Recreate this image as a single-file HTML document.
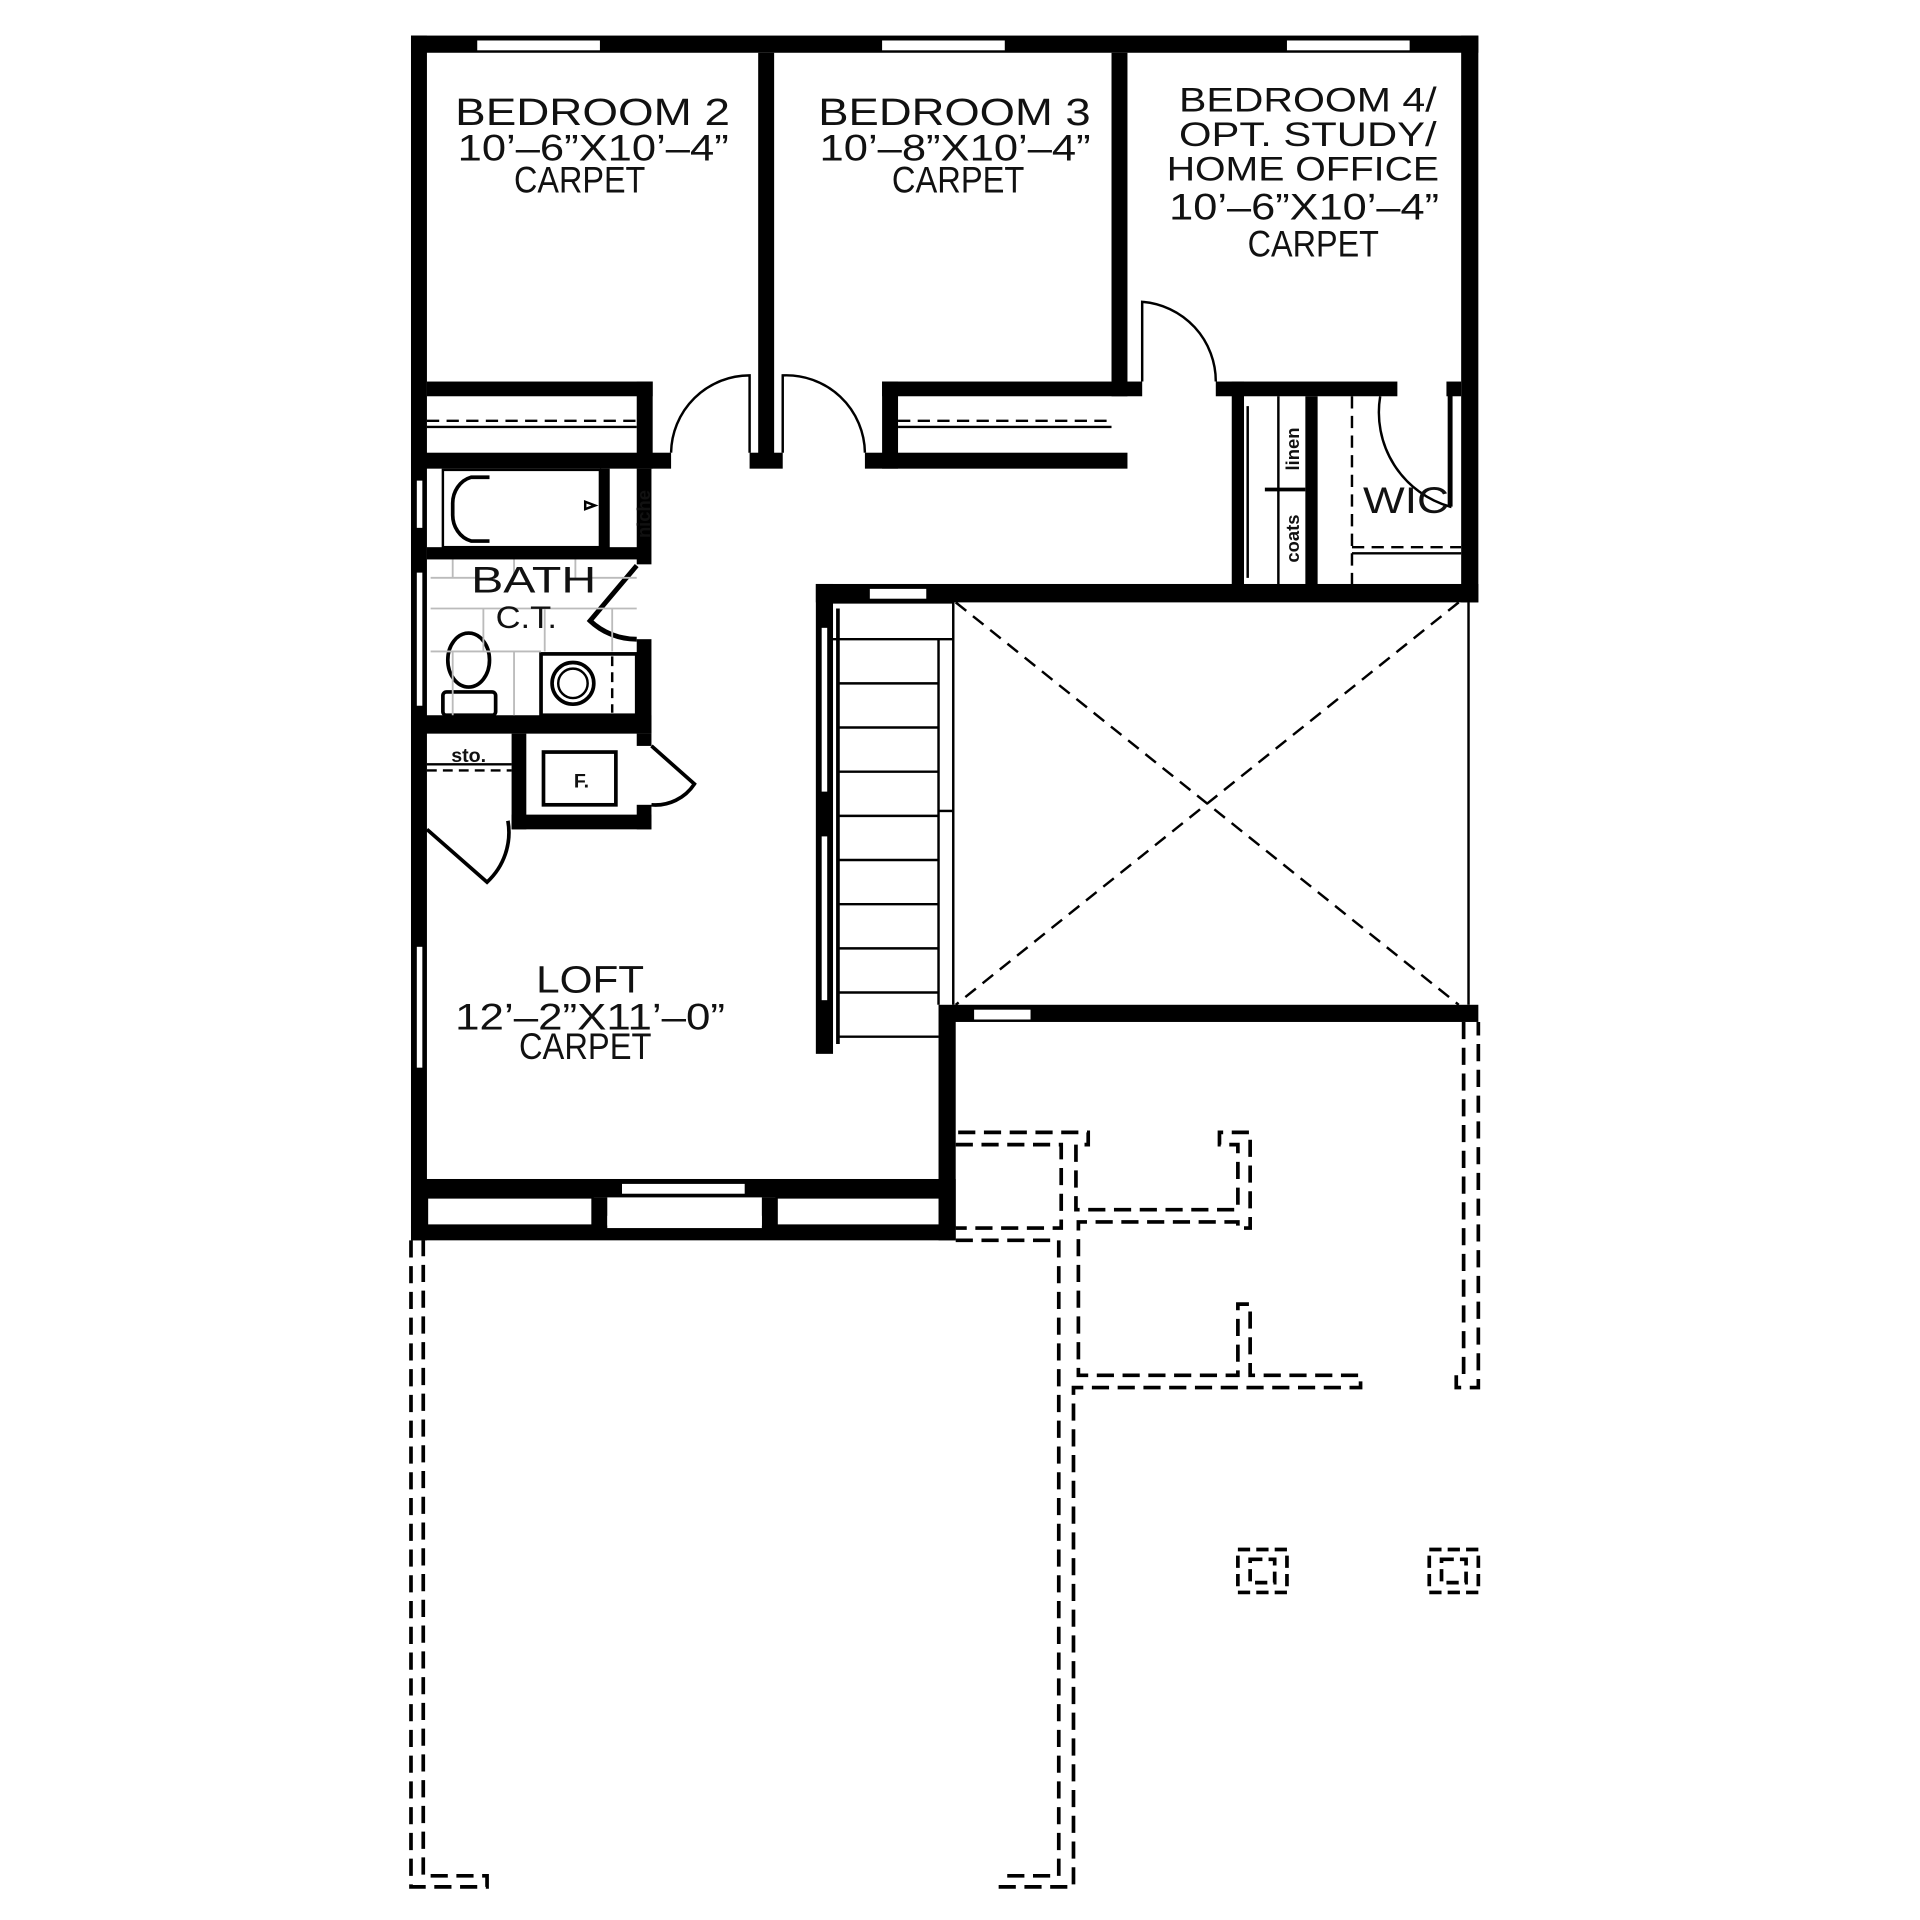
<!DOCTYPE html>
<html><head><meta charset="utf-8"><style>
html,body{margin:0;padding:0;background:#fff}
svg{display:block}
text{font-family:"Liberation Sans",sans-serif;fill:#111}
.t{font-size:31px}
.d{font-size:30px}
</style></head><body>
<svg width="1920" height="1920" viewBox="1 -1 1565 1565" xmlns="http://www.w3.org/2000/svg">
<g fill="#000">
<rect x="336" y="28" width="870" height="14"/>
<rect x="336" y="28" width="13" height="982"/>
<rect x="1192" y="28" width="14" height="462"/>
<rect x="390" y="32" width="100" height="8" fill="#fff"/>
<rect x="720" y="32" width="100" height="8" fill="#fff"/>
<rect x="1050" y="32" width="100" height="8" fill="#fff"/>
<rect x="619" y="42" width="13" height="338"/>
<rect x="907" y="42" width="13" height="280"/>
<rect x="349" y="310" width="184" height="12"/>
<rect x="520" y="310" width="13" height="71"/>
<rect x="336" y="368" width="212" height="13"/>
<rect x="612" y="368" width="27" height="13"/>
<rect x="720" y="310" width="200" height="12"/>
<rect x="720" y="310" width="13" height="71"/>
<rect x="706" y="368" width="214" height="13"/>
<rect x="920" y="310" width="12" height="12"/>
<rect x="992" y="310" width="148" height="12"/>
<rect x="1005" y="310" width="10" height="170"/>
<rect x="1065" y="322" width="10" height="158"/>
<rect x="1180" y="310" width="12" height="12"/>
<rect x="666" y="475" width="540" height="15"/>
<rect x="666" y="475" width="14" height="383"/>
<rect x="778" y="818" width="428" height="14"/>
<rect x="766" y="818" width="14" height="192"/>
<rect x="336" y="960" width="444" height="15"/>
<rect x="336" y="998" width="444" height="12"/>
<rect x="484" y="975" width="12" height="25"/>
<rect x="622" y="975" width="12" height="25"/>
<rect x="336" y="975" width="13" height="25"/>
<rect x="768" y="975" width="12" height="25"/>
<rect x="496" y="990" width="126" height="10" fill="#fff"/>
<rect x="508" y="964" width="100" height="8" fill="#fff"/>
<rect x="710" y="479" width="46" height="8" fill="#fff"/>
<rect x="795" y="822" width="46" height="8" fill="#fff"/>
<rect x="490" y="381" width="8" height="65"/>
<rect x="520" y="381" width="12" height="78"/>
<rect x="520" y="520" width="12" height="77"/>
<rect x="336" y="582" width="196" height="15"/>
<rect x="418" y="597" width="12" height="78"/>
<rect x="418" y="663" width="114" height="12"/>
<rect x="520" y="597" width="12" height="10"/>
<rect x="520" y="655" width="12" height="20"/>
<rect x="349" y="445" width="180" height="10"/>
</g>
<rect x="340" y="390" width="6" height="40" fill="#fff" stroke="#000" stroke-width="1.5"/>
<rect x="340" y="465" width="6" height="110" fill="#fff" stroke="#000" stroke-width="1.5"/>
<rect x="340" y="770" width="6" height="100" fill="#fff" stroke="#000" stroke-width="1.5"/>
<rect x="670" y="510" width="6" height="135" fill="#fff" stroke="#000" stroke-width="1.5"/>
<rect x="670" y="680" width="6" height="135" fill="#fff" stroke="#000" stroke-width="1.5"/>
<g fill="none" stroke="#000" stroke-width="2">
<line x1="349" y1="342" x2="520" y2="342" stroke-dasharray="10,6"/>
<line x1="349" y1="347" x2="520" y2="347"/>
<line x1="733" y1="342" x2="907" y2="342" stroke-dasharray="10,6"/>
<line x1="733" y1="347" x2="907" y2="347"/>
<path d="M612 368 V305 A64 64 0 0 0 548 368"/>
<path d="M639 368 V305 A64 64 0 0 1 706 368"/>
<path d="M932 310 V245 A65 65 0 0 1 992 310"/>
<path d="M1183 320 V412 A80 80 0 0 1 1126 322"/>
<line x1="1183" y1="318" x2="1183" y2="412" stroke-width="4"/>
<line x1="1043" y1="322" x2="1043" y2="478"/>
<line x1="1032" y1="398" x2="1065" y2="398" stroke-width="3"/>
<line x1="1103" y1="322" x2="1103" y2="478" stroke-dasharray="10,6"/>
<line x1="1103" y1="445" x2="1192" y2="445" stroke-dasharray="10,6"/>
<line x1="1103" y1="450" x2="1192" y2="450"/>
<line x1="1018" y1="330" x2="1018" y2="470"/>
<line x1="1198" y1="490" x2="1198" y2="818"/>
<path d="M780 490 L1190 818 M1190 490 L780 818" stroke-dasharray="11,7"/>
<line x1="684" y1="495" x2="684" y2="850" stroke-width="3"/>
<polyline points="680,490 778,490 778,818"/>
<line x1="766" y1="520" x2="766" y2="818"/>
<line x1="680" y1="520" x2="778" y2="520"/>
<line x1="766" y1="660" x2="778" y2="660"/>
<path d="M684 556H766M684 592H766M684 628H766M684 664H766M684 700H766M684 736H766M684 772H766M684 808H766M684 844H766"/>
<rect x="349" y="975" width="135" height="23"/>
<rect x="634" y="975" width="134" height="23"/>
<rect x="362" y="382" width="128" height="63" stroke-width="2"/>
<path d="M400 388 H385 A20 22 0 0 0 370 410 V418 A20 22 0 0 0 385 440 H400" stroke-width="3"/>
<path d="M478 408 l8 3 l-8 3z"/>
<rect x="442" y="532" width="78" height="50" stroke-width="3"/>
<circle cx="468" cy="556" r="17" stroke-width="3"/>
<circle cx="468" cy="556" r="12"/>
<line x1="500" y1="534" x2="500" y2="580" stroke-dasharray="8,5"/>
<ellipse cx="383" cy="537" rx="17" ry="22" stroke-width="3"/>
<rect x="362" y="563" width="43" height="19" rx="3" stroke-width="3"/>
<path d="M520 460 L482 505 A55 55 0 0 0 520 520" stroke-width="4"/>
<g stroke="#bbb" stroke-width="1.5">
<path d="M352 495H520M352 530H442M352 470H390M480 470H520"/>
<path d="M370 455V470M420 455V470M470 455V470M395 495V530M445 495V530M500 495V530M370 530V582M420 530V582"/>
</g>
<line x1="349" y1="622" x2="418" y2="622"/>
<line x1="349" y1="627" x2="418" y2="627" stroke-dasharray="8,5"/>
<rect x="444" y="612" width="59" height="43" stroke-width="3"/>
<path d="M532 607 L567 638 A38 38 0 0 1 532 655" stroke-width="3"/>
<path d="M349 675 L398 718 A55 55 0 0 0 415 668" stroke-width="3"/>
</g>
<g fill="none" stroke="#000" stroke-width="3" stroke-dasharray="14,7">
<polyline points="336,1010 336,1537 398,1537 398,1528 346,1528 346,1010"/>
<polyline points="815,1537 876,1537 876,1130 1110,1130 1110,1120 1020,1120 1020,1062 1010,1062 1010,1120 880,1120 880,995 1010,995 1010,1000 1020,1000 1020,922 995,922 995,932 1010,932 1010,985 878,985 878,932 888,932 888,922 780,922"/>
<polyline points="780,932 866,932 866,1000 780,1000"/>
<polyline points="780,1010 864,1010 864,1528 815,1528"/>
<polyline points="1194,832 1194,1120 1188,1120 1188,1130 1206,1130 1206,832"/>
</g>
<g fill="none" stroke="#000" stroke-width="3" stroke-dasharray="10,5">
<rect x="1010" y="1262" width="40" height="35"/>
<rect x="1020" y="1270" width="20" height="19"/>
<rect x="1166" y="1262" width="40" height="35"/>
<rect x="1176" y="1270" width="20" height="19"/>
</g>
<text class="t" x="372" y="101" textLength="224" lengthAdjust="spacingAndGlyphs">BEDROOM 2</text>
<text class="d" x="374" y="130" textLength="221" lengthAdjust="spacingAndGlyphs">10’–6”X10’–4”</text>
<text class="d" x="420" y="156" textLength="107" lengthAdjust="spacingAndGlyphs">CARPET</text>
<text class="t" x="668" y="101" textLength="222" lengthAdjust="spacingAndGlyphs">BEDROOM 3</text>
<text class="d" x="669" y="130" textLength="221" lengthAdjust="spacingAndGlyphs">10’–8”X10’–4”</text>
<text class="d" x="728" y="156" textLength="108" lengthAdjust="spacingAndGlyphs">CARPET</text>
<text class="t" x="962" y="90" textLength="210" lengthAdjust="spacingAndGlyphs" style="font-size:28px">BEDROOM 4/</text>
<text class="t" x="962" y="118" textLength="210" lengthAdjust="spacingAndGlyphs" style="font-size:28px">OPT. STUDY/</text>
<text class="t" x="952" y="146" textLength="222" lengthAdjust="spacingAndGlyphs" style="font-size:28px">HOME OFFICE</text>
<text class="d" x="954" y="178" textLength="220" lengthAdjust="spacingAndGlyphs">10’–6”X10’–4”</text>
<text class="d" x="1018" y="208" textLength="107" lengthAdjust="spacingAndGlyphs">CARPET</text>
<text class="t" x="385" y="482" textLength="102" lengthAdjust="spacingAndGlyphs" style="font-size:30px">BATH</text>
<text class="d" x="405" y="511" textLength="50" lengthAdjust="spacingAndGlyphs" style="font-size:26px">C.T.</text>
<text class="t" x="1112" y="417" textLength="70" lengthAdjust="spacingAndGlyphs" style="font-size:30px">WIC</text>
<text x="383" y="620" text-anchor="middle" style="font-size:16px;font-weight:bold">sto.</text>
<text x="475" y="641" text-anchor="middle" style="font-size:16px;font-weight:bold">F.</text>
<text x="0" y="0" transform="translate(531,418) rotate(-90)" text-anchor="middle" style="font-size:15px;font-weight:bold">niche</text>
<text x="0" y="0" transform="translate(1060,365) rotate(-90)" text-anchor="middle" style="font-size:15px;font-weight:bold">linen</text>
<text x="0" y="0" transform="translate(1060,438) rotate(-90)" text-anchor="middle" style="font-size:15px;font-weight:bold">coats</text>
<text class="t" x="438" y="808" textLength="88" lengthAdjust="spacingAndGlyphs">LOFT</text>
<text class="d" x="372" y="838" textLength="220" lengthAdjust="spacingAndGlyphs">12’–2”X11’–0”</text>
<text class="d" x="424" y="862" textLength="108" lengthAdjust="spacingAndGlyphs">CARPET</text>
</svg>
</body></html>
